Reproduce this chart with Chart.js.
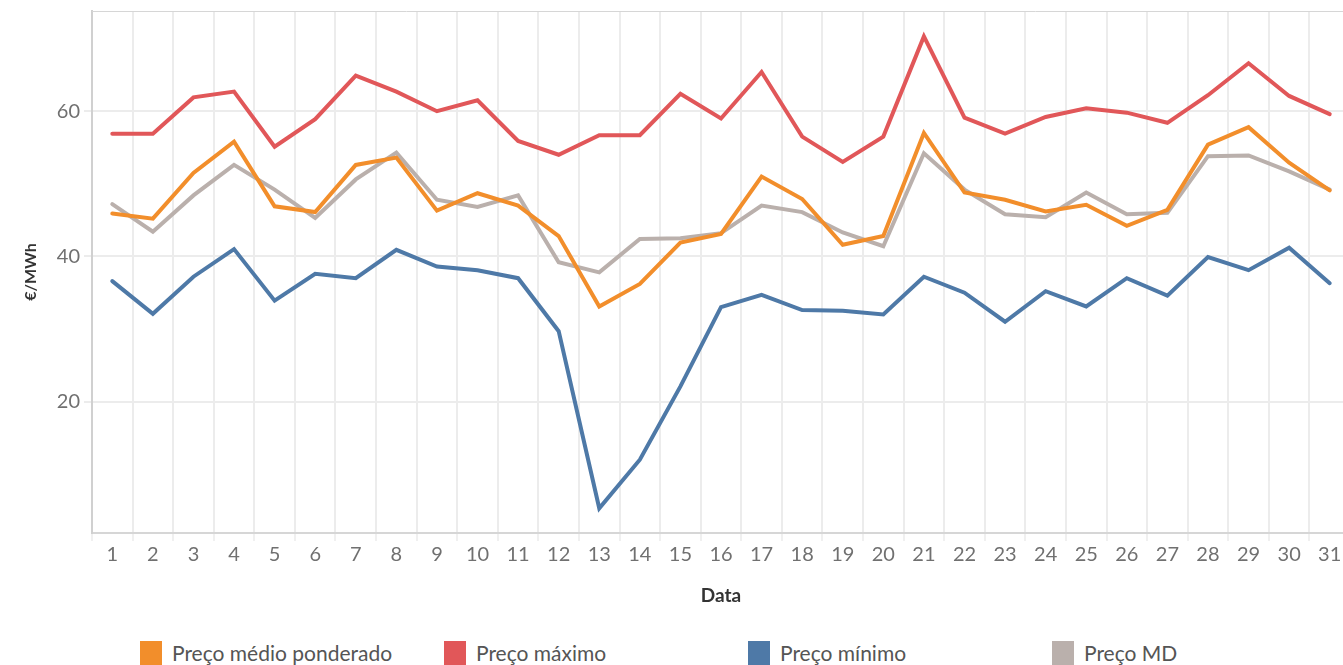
<!DOCTYPE html>
<html>
<head>
<meta charset="utf-8">
<script src="https://cdn.jsdelivr.net/npm/chart.js@4.4.1/dist/chart.umd.min.js"></script>
<style>
  html, body { margin: 0; padding: 0; background: #fff; overflow: hidden; }
  #wrap { position: relative; width: 1351px; height: 620px; }
  #legend {
    position: absolute; left: 140px; top: 640px;
    display: flex; font-family: Lato, "Noto Sans", sans-serif;
    font-size: 21px; line-height: 25px; color: #555;
  }
  #legend .item { width: 304px; display: flex; align-items: flex-start; white-space: nowrap; }
  #legend .box { width: 22px; height: 25px; margin-top: 1px; margin-right: 10px; flex: none; }
</style>
</head>
<body>
<div id="wrap"><canvas id="priceChart"></canvas></div>
<div id="legend"></div>
<script>
// --- Data ---
const days = ['1','2','3','4','5','6','7','8','9','10','11','12','13','14','15','16',
              '17','18','19','20','21','22','23','24','25','26','27','28','29','30','31'];

const precoMedio = [45.9, 45.2, 51.5, 55.8, 46.9, 46.1, 52.6, 53.6, 46.3, 48.7, 47.0, 42.8, 33.1, 36.2, 41.9, 43.1,
                    51.0, 47.9, 41.6, 42.8, 57.0, 48.8, 47.8, 46.2, 47.1, 44.2, 46.4, 55.4, 57.8, 52.9, 49.1];
const precoMaximo = [56.9, 56.9, 61.9, 62.7, 55.1, 58.9, 64.9, 62.7, 60.0, 61.5, 55.9, 54.0, 56.7, 56.7, 62.4, 59.0,
                     65.4, 56.5, 53.0, 56.5, 70.3, 59.1, 56.9, 59.2, 60.4, 59.8, 58.4, 62.2, 66.6, 62.1, 59.6];
const precoMinimo = [36.6, 32.1, 37.2, 41.0, 33.9, 37.6, 37.0, 40.9, 38.6, 38.1, 37.0, 29.7, 5.3, 12.0, 22.1, 33.0,
                     34.7, 32.6, 32.5, 32.0, 37.2, 35.0, 31.0, 35.2, 33.1, 37.0, 34.6, 39.9, 38.1, 41.2, 36.3];
const precoMD = [47.2, 43.4, 48.4, 52.6, 49.2, 45.3, 50.6, 54.3, 47.8, 46.8, 48.4, 39.2, 37.8, 42.4, 42.5, 43.2,
                 47.0, 46.1, 43.3, 41.4, 54.2, 49.2, 45.8, 45.4, 48.8, 45.8, 46.0, 53.8, 53.9, 51.7, 49.2];

const yTicks = [20, 40, 60];

const seriesDefs = [
    { label: 'Preço médio ponderado', data: precoMedio, color: '#F28E2B' },
    { label: 'Preço máximo', data: precoMaximo, color: '#E15759' },
    { label: 'Preço mínimo', data: precoMinimo, color: '#4E79A7' },
    { label: 'Preço MD', data: precoMD, color: '#BAB0AC' }
];

const FONT = 'Lato, "Noto Sans", sans-serif';

// top border of the pane
const topBorder = {
    id: 'topBorder',
    afterDraw(chart) {
        const { ctx, chartArea } = chart;
        ctx.save();
        ctx.strokeStyle = '#d6d6d6';
        ctx.lineWidth = 1;
        ctx.beginPath();
        ctx.moveTo(chartArea.left, chartArea.top + 0.5);
        ctx.lineTo(chartArea.right, chartArea.top + 0.5);
        ctx.stroke();
        ctx.restore();
    }
};

function initChart() {
    const ctx = document.getElementById('priceChart').getContext('2d');
    new Chart(ctx, {
        type: 'line',
        data: {
            labels: days,
            datasets: seriesDefs.map(s => ({
                label: s.label,
                data: s.data,
                borderColor: s.color,
                backgroundColor: s.color,
                borderWidth: 4,
                borderJoinStyle: 'miter',
                borderCapStyle: 'round',
                pointRadius: 0,
                tension: 0,
                fill: false
            }))
        },
        options: {
            responsive: true,
            maintainAspectRatio: false,
            animation: false,
            layout: { padding: { top: 11, right: 1, left: 0, bottom: 0 } },
            scales: {
                x: {
                    offset: true,
                    grid: { offset: true, color: '#ececec', lineWidth: 2, tickLength: 8, tickColor: '#f0f0f0' },
                    border: { color: '#d6d6d6', width: 2 },
                    ticks: { font: { family: FONT, size: 20 }, color: '#707070', padding: 2, maxRotation: 0 },
                    title: {
                        display: true, text: 'Data', color: '#333',
                        font: { family: FONT, size: 19, weight: 'bold' },
                        padding: { top: 0, bottom: 13 }
                    },
                    afterFit: scale => {
                        scale.height = 87;
                        scale.paddingLeft = 0;
                        scale.paddingRight = 0;
                    }
                },
                y: {
                    min: 1.9,
                    max: 73.8,
                    grid: { color: '#ececec', lineWidth: 2, tickLength: 8, tickColor: '#ececec' },
                    border: { color: '#d0d0d0', width: 2 },
                    ticks: { font: { family: FONT, size: 20 }, color: '#707070', padding: 4 },
                    afterBuildTicks: scale => {
                        scale.ticks = yTicks.map(v => ({ value: v }));
                    },
                    title: {
                        display: true, text: '€/MWh', color: '#333',
                        font: { family: FONT, size: 16, weight: 'bold' },
                        padding: { top: 21, bottom: 0 }
                    },
                    afterFit: scale => {
                        scale.width = 92;
                        scale.paddingTop = 0;
                        scale.paddingBottom = 0;
                    }
                }
            },
            plugins: {
                legend: { display: false },
                tooltip: { enabled: false }
            }
        },
        plugins: [topBorder]
    });
}

function buildLegend() {
    const legend = document.getElementById('legend');
    seriesDefs.forEach(s => {
        const item = document.createElement('div');
        item.className = 'item';
        const box = document.createElement('span');
        box.className = 'box';
        box.style.background = s.color;
        const txt = document.createElement('span');
        txt.textContent = s.label;
        item.appendChild(box);
        item.appendChild(txt);
        legend.appendChild(item);
    });
}

initChart();
buildLegend();
</script>
</body>
</html>
